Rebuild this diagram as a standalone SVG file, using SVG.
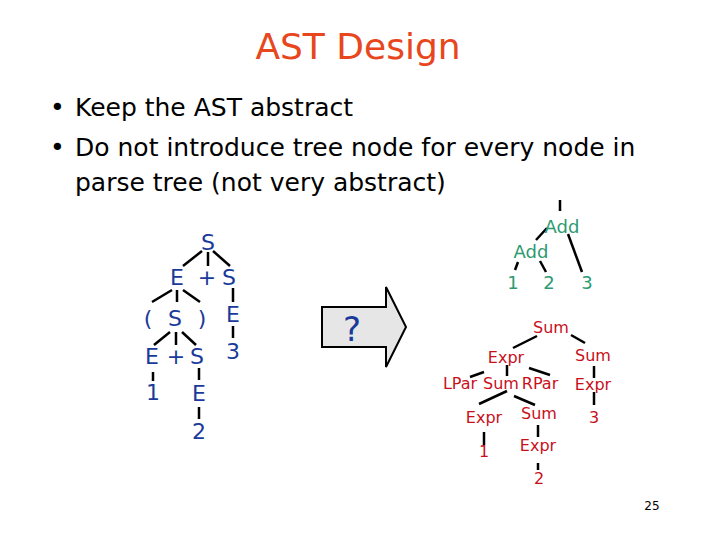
<svg xmlns="http://www.w3.org/2000/svg" width="720" height="540" viewBox="0 0 720 540">
<style>
text{font-family:Tahoma,"DejaVu Sans",sans-serif}
.b{fill:#1a3a9a;font-size:22px;text-anchor:middle}
.g{fill:#2e9a72;font-size:18px;text-anchor:middle}
.r{fill:#c8101a;font-size:16px;text-anchor:middle}
line{stroke:#000;stroke-width:2.5}
</style>
<rect width="720" height="540" fill="#fff"/>
<text x="358" y="59" font-size="36" fill="#e8461c" text-anchor="middle">AST Design</text>
<g font-size="25" fill="#000">
<text x="50" y="116">•</text><text x="75" y="116">Keep the AST abstract</text>
<text x="50" y="156">•</text><text x="75" y="156">Do not introduce tree node for every node in</text>
<text x="75" y="191">parse tree (not very abstract)</text>
</g>
<g id="connectors">
<line x1="202" y1="251" x2="183" y2="266"/><line x1="208" y1="252" x2="208" y2="266"/><line x1="213" y1="251" x2="230" y2="266"/>
<line x1="172" y1="290" x2="152" y2="302"/><line x1="177" y1="290" x2="177" y2="302"/><line x1="183" y1="290" x2="200" y2="302"/>
<line x1="233" y1="288" x2="233" y2="302"/><line x1="233" y1="326" x2="233" y2="338"/>
<line x1="170" y1="332" x2="154" y2="345"/><line x1="176" y1="332" x2="176" y2="345"/><line x1="182" y1="332" x2="196" y2="345"/>
<line x1="153" y1="372" x2="153" y2="381"/><line x1="199" y1="368" x2="199" y2="380"/><line x1="199" y1="407" x2="199" y2="419"/>
<line x1="560" y1="200" x2="560" y2="211"/><line x1="547" y1="228" x2="536" y2="240"/><line x1="568" y1="234" x2="582" y2="272"/>
<line x1="518" y1="262" x2="515" y2="270"/><line x1="540" y1="261" x2="546" y2="272"/>
<line x1="537" y1="336" x2="513" y2="348"/><line x1="571" y1="335" x2="585" y2="343"/>
<line x1="484" y1="372" x2="470" y2="377"/><line x1="507" y1="365" x2="507" y2="376"/><line x1="529" y1="368" x2="550" y2="375"/>
<line x1="594" y1="366" x2="594" y2="378"/><line x1="594" y1="392" x2="594" y2="405"/>
<line x1="507" y1="391" x2="479" y2="404"/><line x1="514" y1="396" x2="535" y2="405"/>
<line x1="484" y1="432" x2="484" y2="445"/><line x1="538" y1="425" x2="538" y2="437"/><line x1="538" y1="463" x2="538" y2="470"/>
</g>
<g id="parse-tree">
<text class="b" x="208" y="250">S</text>
<text class="b" x="177" y="285">E</text><text class="b" x="207" y="285">+</text><text class="b" x="229" y="285">S</text>
<text class="b" x="148" y="326">(</text><text class="b" x="175" y="326">S</text><text class="b" x="202" y="326">)</text><text class="b" x="233" y="322">E</text>
<text class="b" x="152" y="364">E</text><text class="b" x="176" y="364">+</text><text class="b" x="197" y="364">S</text><text class="b" x="233" y="359">3</text>
<text class="b" x="153" y="400">1</text><text class="b" x="199" y="401">E</text><text class="b" x="199" y="439">2</text>
</g>
<g id="arrow"><path d="M322,307 H386 V287 L406,327 L386,367 V347 H322 Z" fill="#e6e6e6" stroke="#000" stroke-width="2"/>
<text x="352" y="341" font-size="34" fill="#1a3a9a" text-anchor="middle">?</text></g>
<g id="ast">
<text class="g" x="562" y="233">Add</text><text class="g" x="531" y="258">Add</text>
<text class="g" x="513" y="289">1</text><text class="g" x="549" y="289">2</text><text class="g" x="587" y="289">3</text>
</g>
<g id="grammar-tree">
<text class="r" x="551" y="333">Sum</text><text class="r" x="506" y="363">Expr</text><text class="r" x="593" y="361">Sum</text>
<text class="r" x="460" y="389">LPar</text><text class="r" x="501" y="389">Sum</text><text class="r" x="540" y="389">RPar</text><text class="r" x="593" y="390">Expr</text>
<text class="r" x="484" y="423">Expr</text><text class="r" x="539" y="419">Sum</text><text class="r" x="594" y="423">3</text>
<text class="r" x="484" y="457">1</text><text class="r" x="538" y="451">Expr</text><text class="r" x="539" y="484">2</text>
</g>
<text x="652" y="510" font-size="12" fill="#000" text-anchor="middle">25</text>
</svg>
